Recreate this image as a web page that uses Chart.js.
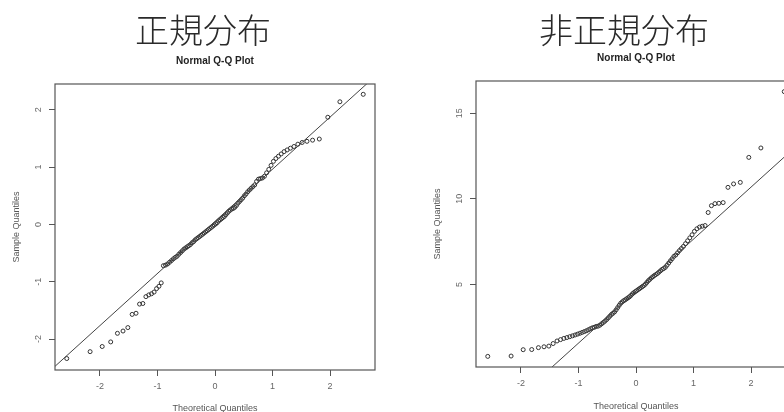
<!DOCTYPE html>
<html lang="ja">
<head>
<meta charset="utf-8">
<script src="https://cdn.jsdelivr.net/npm/chart.js@4.4.1/dist/chart.umd.min.js"></script>
<style>
  html, body { margin: 0; padding: 0; background: #fff; }
  body { width: 784px; height: 412px; overflow: hidden; position: relative; }
  .panel-title {
    position: absolute; top: 9px; width: 240px; z-index: 2;
    text-align: center; white-space: nowrap;
    font-family: "Noto Sans CJK JP", sans-serif; font-weight: 300;
    font-size: 34px; line-height: 40px; color: #2a2a2a;
  }
  canvas { position: absolute; top: 0; }
</style>
</head>
<body>
<div class="panel-title" style="left:83px">正規分布</div>
<div class="panel-title" style="left:504px">非正規分布</div>
<canvas id="normalQQ" width="392" height="424" style="left:0"></canvas>
<canvas id="skewQQ" width="420" height="424" style="left:392px"></canvas>
<script>
// Theoretical normal quantiles for 100 sorted observations, ppoints(100)
const theoreticalQuantiles = [
  -2.5758, -2.1701, -1.9600, -1.8119, -1.6954, -1.5982, -1.5141, -1.4395, -1.3722, -1.3106,
  -1.2536, -1.2004, -1.1503, -1.1031, -1.0581, -1.0152, -0.9741, -0.9346, -0.8965, -0.8596,
  -0.8239, -0.7892, -0.7554, -0.7225, -0.6903, -0.6588, -0.6280, -0.5978, -0.5681, -0.5388,
  -0.5101, -0.4817, -0.4538, -0.4261, -0.3989, -0.3719, -0.3451, -0.3186, -0.2924, -0.2663,
  -0.2404, -0.2147, -0.1891, -0.1637, -0.1383, -0.1130, -0.0878, -0.0627, -0.0376, -0.0125,
   0.0125,  0.0376,  0.0627,  0.0878,  0.1130,  0.1383,  0.1637,  0.1891,  0.2147,  0.2404,
   0.2663,  0.2924,  0.3186,  0.3451,  0.3719,  0.3989,  0.4261,  0.4538,  0.4817,  0.5101,
   0.5388,  0.5681,  0.5978,  0.6280,  0.6588,  0.6903,  0.7225,  0.7554,  0.7892,  0.8239,
   0.8596,  0.8965,  0.9346,  0.9741,  1.0152,  1.0581,  1.1031,  1.1503,  1.2004,  1.2536,
   1.3106,  1.3722,  1.4395,  1.5141,  1.5982,  1.6954,  1.8119,  1.9600,  2.1701,  2.5758
];

// Sorted sample, roughly normal
const normalSample = [
  -2.34, -2.22, -2.13, -2.05, -1.90, -1.86, -1.80, -1.57, -1.55, -1.39,
  -1.38, -1.26, -1.23, -1.21, -1.18, -1.12, -1.08, -1.02, -0.72, -0.71,
  -0.69, -0.66, -0.63, -0.60, -0.575, -0.555, -0.52, -0.49, -0.46, -0.43,
  -0.41, -0.39, -0.37, -0.35, -0.32, -0.30, -0.27, -0.25, -0.23, -0.21,
  -0.19, -0.17, -0.15, -0.13, -0.11, -0.09, -0.07, -0.05, -0.03, -0.01,
   0.01,  0.03,  0.06,  0.08,  0.10,  0.12,  0.14,  0.17,  0.20,  0.23,
   0.25,  0.27,  0.28,  0.30,  0.33,  0.37,  0.40,  0.43,  0.46,  0.50,
   0.53,  0.57,  0.60,  0.63,  0.66,  0.69,  0.75,  0.79,  0.80,  0.81,
   0.84,  0.90,  0.96,  1.03,  1.10,  1.15,  1.19,  1.23,  1.27,  1.30,
   1.33,  1.36,  1.40,  1.43,  1.45,  1.47,  1.49,  1.87,  2.14,  2.27
];

// Sorted sample, right-skewed
const skewedSample = [
   0.80,  0.82,  1.19,  1.20,  1.31,  1.36,  1.40,  1.55,  1.70,  1.78,
   1.85,  1.90,  1.95,  2.00,  2.05,  2.10,  2.15,  2.20,  2.25,  2.30,
   2.36,  2.42,  2.47,  2.50,  2.55,  2.565, 2.62,  2.70,  2.78,  2.86,
   2.95,  3.05,  3.15,  3.25,  3.32,  3.40,  3.52,  3.65,  3.78,  3.90,
   3.98,  4.05,  4.10,  4.16,  4.22,  4.28,  4.36,  4.45,  4.52,  4.58,
   4.64,  4.70,  4.76,  4.82,  4.88,  4.94,  5.02,  5.12,  5.22,  5.30,
   5.38,  5.45,  5.52,  5.58,  5.64,  5.72,  5.80,  5.88,  5.93,  6.00,
   6.12,  6.25,  6.38,  6.50,  6.64,  6.72,  6.85,  6.98,  7.10,  7.22,
   7.38,  7.55,  7.72,  7.90,  8.10,  8.25,  8.35,  8.40,  8.44,  9.20,
   9.60,  9.72,  9.74,  9.78, 10.67, 10.87, 10.96, 12.42, 12.97, 16.26
];

// Tick values
const qTicks = [-2, -1, 0, 1, 2];
const normalYTicks = [-2, -1, 0, 1, 2];
const skewedYTicks = [5, 10, 15];

const FONT = '"Liberation Sans", Arial, sans-serif';
Chart.defaults.font.family = FONT;

// Type-7 sample quantile of an already sorted array
function quantile(sorted, p) {
  const h = (sorted.length - 1) * p;
  const lo = Math.floor(h);
  const hi = Math.min(lo + 1, sorted.length - 1);
  return sorted[lo] + (h - lo) * (sorted[hi] - sorted[lo]);
}

// Reference line through the first and third quartiles (as qqline does)
function qqLine(sample) {
  const zq = 0.6745;
  const y1 = quantile(sample, 0.25), y3 = quantile(sample, 0.75);
  const slope = (y3 - y1) / (2 * zq);
  return { slope, intercept: y1 + slope * zq };
}

// Plot frame plus y tick labels written parallel to the axis
const framePlugin = {
  id: 'frame',
  afterDraw(chart) {
    const { ctx, chartArea: a, scales: { y } } = chart;
    ctx.save();
    ctx.strokeStyle = '#555';
    ctx.lineWidth = 1.2;
    ctx.strokeRect(a.left, a.top, a.right - a.left, a.bottom - a.top);
    ctx.fillStyle = '#666';
    ctx.font = '9px ' + FONT;
    ctx.textAlign = 'center';
    ctx.textBaseline = 'middle';
    y.ticks.forEach(t => {
      const py = y.getPixelForValue(t.value);
      ctx.save();
      ctx.translate(a.left - 16, py);
      ctx.rotate(-Math.PI / 2);
      ctx.fillText(String(t.value), 0, 0);
      ctx.restore();
    });
    ctx.restore();
  }
};

function makeQQ(canvasId, sample, cfg) {
  const points = sample.map((v, i) => ({ x: theoreticalQuantiles[i], y: v }));
  const { slope, intercept } = qqLine(sample);
  const lineData = [cfg.xMin, cfg.xMax].map(x => ({ x, y: intercept + slope * x }));
  const tickGrid = {
    display: true, drawOnChartArea: false, drawTicks: true,
    tickLength: 6, tickColor: '#555', tickWidth: 1
  };
  return new Chart(document.getElementById(canvasId), {
    type: 'scatter',
    data: {
      datasets: [
        {
          type: 'line', data: lineData,
          borderColor: '#444', borderWidth: 1, pointRadius: 0, fill: false
        },
        {
          data: points,
          pointRadius: 2, pointHoverRadius: 2,
          borderColor: '#333', borderWidth: 1,
          backgroundColor: 'rgba(0,0,0,0)'
        }
      ]
    },
    plugins: [framePlugin],
    options: {
      responsive: false, animation: false, devicePixelRatio: 1,
      layout: { padding: { left: 0, right: cfg.padRight, top: 0, bottom: 0 } },
      plugins: {
        legend: { display: false },
        tooltip: { enabled: false },
        title: {
          display: true, text: 'Normal Q-Q Plot', fullSize: false,
          color: '#222', font: { size: 10, weight: 'bold' },
          padding: { top: cfg.subTop, bottom: 17 }
        }
      },
      scales: {
        x: {
          type: 'linear', min: cfg.xMin, max: cfg.xMax,
          afterBuildTicks: s => { s.ticks = qTicks.map(v => ({ value: v })); },
          afterFit: s => { s.height = cfg.xAxisH; },
          grid: tickGrid, border: { display: false },
          ticks: { color: '#666', font: { size: 9 }, padding: 5, maxRotation: 0, autoSkip: false },
          title: {
            display: true, text: 'Theoretical Quantiles', color: '#555',
            font: { size: 9 }, padding: { top: 0, bottom: cfg.xTitlePad }
          }
        },
        y: {
          type: 'linear', min: cfg.yMin, max: cfg.yMax,
          afterBuildTicks: s => { s.ticks = cfg.yTicks.map(v => ({ value: v })); },
          afterFit: s => { s.width = cfg.yAxisW; },
          grid: tickGrid, border: { display: false },
          ticks: { display: false },
          title: {
            display: true, text: 'Sample Quantiles', color: '#555',
            font: { size: 9 }, padding: { top: cfg.yTitlePad, bottom: 0 }
          }
        }
      }
    }
  });
}

makeQQ('normalQQ', normalSample, {
  xMin: -2.78, xMax: 2.78, yMin: -2.54, yMax: 2.45, yTicks: normalYTicks,
  padRight: 17, subTop: 55, xAxisH: 54, yAxisW: 55, xTitlePad: 9.6, yTitlePad: 11.6
});

makeQQ('skewQQ', skewedSample, {
  xMin: -2.78, xMax: 2.78, yMin: 0.18, yMax: 16.88, yTicks: skewedYTicks,
  padRight: 16, subTop: 52, xAxisH: 57, yAxisW: 84, xTitlePad: 12, yTitlePad: 40.6
});
</script>
</body>
</html>
